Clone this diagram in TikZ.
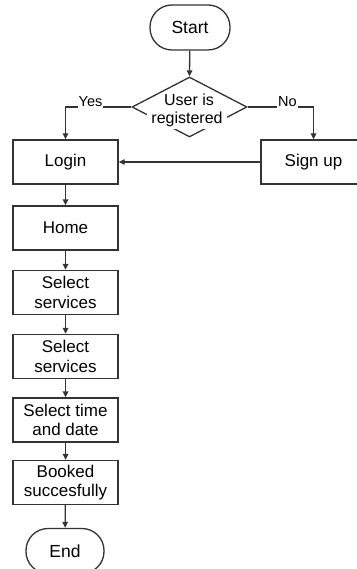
\documentclass[tikz,border=0pt]{standalone}
\usepackage{fontspec}
\setmainfont{Liberation Sans}
\usetikzlibrary{arrows.meta,shapes.geometric}
\begin{document}
\begin{tikzpicture}[x=1pt,y=-1pt,
  line/.style={draw=black!80,line width=1.3pt},
  arr/.style={line,-{Triangle[length=6pt,width=5.5pt]}},
  box/.style={draw=black!80,line width=1.3pt,rectangle,minimum width=105pt,minimum height=44pt,inner sep=0pt,align=center,font=\fontsize{17}{19.5}\selectfont},
  term/.style={draw=black!80,line width=1.3pt,rectangle,rounded corners=22pt,minimum height=45pt,inner sep=0pt,font=\fontsize{17.5}{20}\selectfont},
  lbl/.style={fill=white,inner xsep=1pt,inner ysep=1.5pt,font=\fontsize{14.5}{16}\selectfont,anchor=base}
]
\useasboundingbox[fill=white] (0,0) rectangle (356,569);
\node[term,minimum width=80pt] (start) at (190,27.5) {Start};
\node[draw=black!80,line width=1.3pt,diamond,minimum width=115pt,minimum height=60pt,inner sep=0pt] (dec) at (189.5,107) {};
\node[font=\fontsize{16}{17}\selectfont,anchor=base,inner sep=0pt] (t1) at (189,106) {User is};
\node[font=\fontsize{16}{17}\selectfont,anchor=base,fill=white,inner xsep=4pt,inner ysep=2pt] (t2) at (187,123.5) {registered};
\node[box] (login) at (65.5,162) {Login};
\node[box] (signup) at (313.5,162) {Sign up};
\node[box] (home) at (65.5,228) {Home};
\node[box] (sel1) at (65.5,292.5) {Select\\services};
\node[box] (sel2) at (65.5,356.5) {Select\\services};
\node[box] (time) at (65.5,420) {Select time\\and date};
\node[box] (booked) at (65.5,482.5) {Booked\\succesfully};
\node[term,minimum width=78pt] (end) at (65,551) {End};
\draw[arr] (start) -- (dec.north);
\draw[arr] (dec.west) -| (login.north);
\draw[arr] (dec.east) -| (signup.north);
\node[lbl] (yes) at (90.5,107) {Yes};
\node[lbl] (no) at (287.5,107) {No};
\draw[arr] (signup.west) -- (login.east);
\draw[arr] (login) -- (home);
\draw[arr] (home) -- (sel1);
\draw[arr] (sel1) -- (sel2);
\draw[arr] (sel2) -- (time);
\draw[arr] (time) -- (booked);
\draw[arr] (booked) -- (end);
\end{tikzpicture}
\end{document}
